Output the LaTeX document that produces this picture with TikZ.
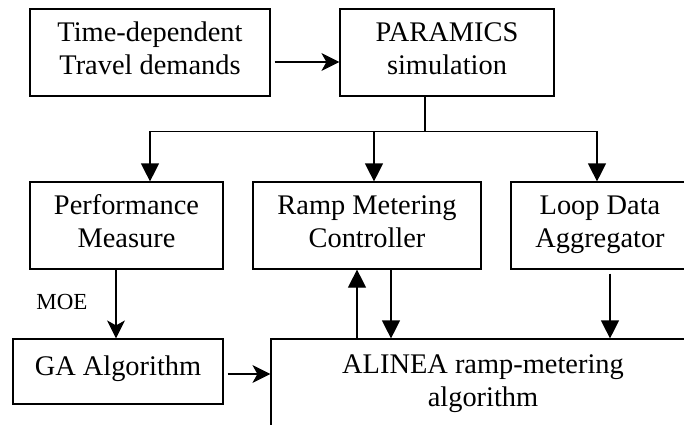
\documentclass[tikz,border=0pt]{standalone}
\usepackage{fontspec}
\setmainfont{Liberation Serif}
\usetikzlibrary{arrows.meta}
\newcommand\bxstrut{\rule[-10.75pt]{0pt}{33pt}}
\newcommand\gastrut{\rule[-13pt]{0pt}{33pt}}
\begin{document}
\begin{tikzpicture}[x=1pt,y=-1pt,
  box/.style={draw,line width=1.2pt,inner sep=0pt,align=center,
    font=\fontsize{28.4}{33}\selectfont},
  tri/.style={line width=1.2pt,-{Triangle[length=18pt,width=18pt]}},
  stl/.style={line width=1.2pt,-{Stealth[length=18pt,width=18pt,inset=5pt]}},
  conn/.style={line width=1.2pt}]
\useasboundingbox (0,0) rectangle (684,424);
\clip (0,0) rectangle (684,424);
\node[box,minimum width=240pt,minimum height=87pt] (tdd) at (150,52.5) {\bxstrut Time-dependent\\\bxstrut Travel demands};
\node[box,minimum width=214pt,minimum height=87pt] (para) at (447,52.5) {\bxstrut PARAMICS\\\bxstrut simulation};
\node[box,minimum width=193pt,minimum height=87pt] (perf) at (126.5,225.5) {\bxstrut Performance\\\bxstrut Measure};
\node[box,minimum width=228pt,minimum height=87pt] (ramp) at (367,225.5) {\bxstrut Ramp Metering\\\bxstrut Controller};
\node[box,minimum width=178pt,minimum height=87pt] (loop) at (600,225.5) {\bxstrut Loop Data\\\bxstrut Aggregator};
\node[box,minimum width=210pt,minimum height=65pt] (ga) at (118,371.5) {\gastrut GA Algorithm};
\node[box,minimum width=424pt,minimum height=90.5pt] (alinea) at (483,384.25) {\bxstrut ALINEA ramp-metering\\\bxstrut algorithm};
\node[font=\fontsize{23}{27}\selectfont,inner sep=0pt] (moe) at (62,302) {MOE};
% connectors
\draw[stl] ([xshift=4pt,yshift=-9.5pt]tdd.east) -- ([yshift=-9.5pt]para.west);
\coordinate (j) at ([xshift=-22pt,yshift=-35pt]para.south);
\draw[conn] ([xshift=-22pt]para.south) -- (j);
\draw[tri] (j) -| ([xshift=23.5pt]perf.north);
\draw[tri] (j) -| ([xshift=7pt]ramp.north);
\draw[tri] (j) -| ([xshift=-3pt]loop.north);
\draw[stl] ([xshift=-10.5pt]perf.south) -- ([xshift=-10.5pt]perf.south |- ga.north);
\draw[stl] ([xshift=4pt,yshift=-2.5pt]ga.east) -- ([yshift=-2.5pt]ga.east -| alinea.west);
\draw[tri] ([xshift=-10pt]ramp.south |- alinea.north) -- ([xshift=-10pt]ramp.south);
\draw[tri] ([xshift=24pt]ramp.south) -- ([xshift=24pt]ramp.south |- alinea.north);
\draw[tri] ([xshift=10pt,yshift=-4pt]loop.south) -- ([xshift=10pt]loop.south |- alinea.north);
\end{tikzpicture}
\end{document}
